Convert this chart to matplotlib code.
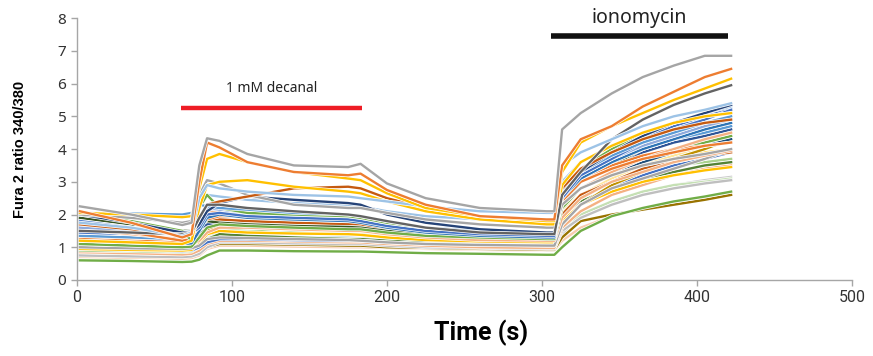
import matplotlib
matplotlib.use("Agg")
import matplotlib.pyplot as plt
import matplotlib.patheffects as pe

# sample times (s)
time_s = [2, 35, 68, 74, 79, 84, 92, 110, 140, 175, 183, 200, 225, 260, 303,
          308, 313, 325, 345, 365, 385, 405, 422]

# Fura 2 ratio traces (one list per cell) and their colours
cell_colors = [
    "#C9C9C9", "#C5E0B4", "#F8CBAD", "#997300", "#70AD47", "#BFBFBF",
    "#F4B183", "#A9D18E", "#BDD7EE", "#548235", "#4472C4", "#FFE699",
    "#FFD966", "#BF9000", "#1F4E79", "#C55A11", "#2F5597", "#375623",
    "#FFC000", "#A5A5A5", "#F4B183", "#70AD47", "#ED7D31", "#5B9BD5",
    "#4472C4", "#9DC3E6",
    "#F4B183", "#ED7D31", "#2E75B6", "#8FAADC", "#4472C4", "#70AD47",
    "#5B9BD5", "#264478", "#A5A5A5", "#C55A11", "#FFC000", "#636363",
    "#9DC3E6", "#FFC000", "#ED7D31", "#A5A5A5",
]
cell_ratios = [
    [0.85, 0.83, 0.80, 0.82, 0.90, 1.05, 1.20, 1.20, 1.15, 1.12, 1.12, 1.08, 1.02, 1.00, 0.97, 0.97, 1.40, 2.00, 2.40, 2.70, 2.90, 3.05, 3.15],
    [0.95, 0.92, 0.90, 0.92, 1.00, 1.20, 1.30, 1.30, 1.28, 1.25, 1.25, 1.20, 1.15, 1.12, 1.10, 1.10, 1.60, 2.00, 2.40, 2.70, 2.90, 3.00, 3.10],
    [0.70, 0.68, 0.65, 0.67, 0.75, 0.95, 1.05, 1.05, 1.02, 1.00, 1.00, 0.98, 0.95, 0.92, 0.90, 0.90, 1.20, 1.60, 1.95, 2.20, 2.40, 2.50, 2.60],
    [0.80, 0.78, 0.75, 0.77, 0.85, 1.00, 1.10, 1.10, 1.08, 1.05, 1.05, 1.00, 0.98, 0.95, 0.92, 0.92, 1.30, 1.80, 2.00, 2.15, 2.30, 2.45, 2.60],
    [0.60, 0.58, 0.55, 0.56, 0.62, 0.75, 0.90, 0.90, 0.88, 0.87, 0.87, 0.85, 0.82, 0.80, 0.77, 0.77, 1.00, 1.50, 1.95, 2.20, 2.40, 2.55, 2.70],
    [0.75, 0.72, 0.70, 0.72, 0.80, 1.00, 1.15, 1.15, 1.12, 1.10, 1.10, 1.05, 1.00, 0.98, 0.95, 0.95, 1.50, 1.90, 2.30, 2.60, 2.80, 2.95, 3.05],
    [0.85, 0.82, 0.78, 0.80, 0.90, 1.10, 1.20, 1.20, 1.18, 1.15, 1.15, 1.10, 1.05, 1.00, 0.98, 0.98, 1.60, 2.10, 2.60, 2.90, 3.20, 3.40, 3.50],
    [0.90, 0.88, 0.85, 0.87, 1.00, 1.30, 1.50, 1.55, 1.50, 1.45, 1.45, 1.35, 1.25, 1.20, 1.15, 1.15, 2.00, 2.50, 3.00, 3.30, 3.50, 3.60, 3.70],
    [1.05, 1.02, 1.00, 1.02, 1.10, 1.30, 1.35, 1.35, 1.30, 1.30, 1.28, 1.22, 1.15, 1.10, 1.08, 1.08, 1.70, 2.30, 2.90, 3.30, 3.60, 3.80, 4.00],
    [1.05, 1.00, 0.95, 0.97, 1.05, 1.25, 1.40, 1.35, 1.30, 1.25, 1.25, 1.20, 1.15, 1.12, 1.10, 1.10, 1.90, 2.40, 2.80, 3.10, 3.30, 3.50, 3.60],
    [0.95, 0.92, 0.88, 0.90, 1.00, 1.15, 1.25, 1.25, 1.22, 1.20, 1.20, 1.15, 1.10, 1.08, 1.05, 1.05, 1.80, 2.30, 2.80, 3.20, 3.50, 3.70, 3.90],
    [1.25, 1.22, 1.20, 1.22, 1.30, 1.55, 1.65, 1.60, 1.55, 1.52, 1.50, 1.40, 1.30, 1.25, 1.22, 1.22, 2.10, 2.60, 3.10, 3.50, 3.80, 4.10, 4.30],
    [1.15, 1.12, 1.10, 1.12, 1.20, 1.50, 1.80, 1.75, 1.70, 1.65, 1.60, 1.45, 1.30, 1.20, 1.15, 1.15, 1.90, 2.50, 3.00, 3.40, 3.70, 3.90, 4.00],
    [1.10, 1.08, 1.05, 1.08, 1.30, 1.55, 1.65, 1.60, 1.55, 1.50, 1.50, 1.40, 1.30, 1.25, 1.20, 1.20, 1.80, 2.30, 2.90, 3.30, 3.70, 4.00, 4.30],
    [1.00, 0.98, 0.95, 1.00, 1.40, 1.80, 1.85, 1.75, 1.65, 1.60, 1.60, 1.50, 1.40, 1.30, 1.25, 1.25, 2.20, 2.80, 3.30, 3.60, 3.90, 4.10, 4.30],
    [1.30, 1.25, 1.20, 1.22, 1.50, 1.80, 1.85, 1.80, 1.75, 1.70, 1.70, 1.55, 1.40, 1.30, 1.25, 1.25, 2.00, 2.60, 3.00, 3.40, 3.60, 3.80, 3.90],
    [1.75, 1.55, 1.35, 1.38, 1.55, 1.70, 1.72, 1.68, 1.62, 1.58, 1.55, 1.45, 1.35, 1.28, 1.25, 1.25, 2.40, 3.00, 3.50, 3.90, 4.20, 4.40, 4.60],
    [1.90, 1.70, 1.50, 1.50, 1.70, 1.80, 1.75, 1.70, 1.65, 1.62, 1.60, 1.50, 1.40, 1.30, 1.25, 1.25, 2.30, 3.00, 3.50, 4.00, 4.30, 4.60, 4.90],
    [0.95, 0.92, 0.90, 0.92, 1.10, 1.40, 1.50, 1.45, 1.42, 1.40, 1.38, 1.30, 1.22, 1.18, 1.15, 1.15, 1.80, 2.30, 2.70, 3.00, 3.20, 3.35, 3.45],
    [1.00, 0.97, 0.95, 0.97, 1.05, 1.25, 1.30, 1.28, 1.25, 1.22, 1.20, 1.15, 1.10, 1.07, 1.05, 1.05, 1.70, 2.30, 2.80, 3.10, 3.40, 3.70, 4.00],
    [1.10, 1.07, 1.05, 1.07, 1.20, 1.45, 1.60, 1.60, 1.55, 1.50, 1.50, 1.40, 1.30, 1.22, 1.20, 1.20, 1.90, 2.50, 3.00, 3.30, 3.60, 3.80, 3.95],
    [1.10, 1.05, 1.00, 1.02, 1.30, 1.60, 1.70, 1.65, 1.60, 1.55, 1.55, 1.45, 1.35, 1.30, 1.25, 1.25, 2.20, 2.80, 3.30, 3.70, 4.00, 4.20, 4.40],
    [1.25, 1.20, 1.15, 1.20, 1.60, 2.00, 2.05, 2.00, 1.95, 1.90, 1.85, 1.70, 1.55, 1.45, 1.40, 1.40, 2.50, 3.10, 3.50, 3.80, 4.00, 4.10, 4.20],
    [1.35, 1.30, 1.25, 1.28, 1.55, 1.90, 2.00, 1.95, 1.90, 1.85, 1.80, 1.65, 1.50, 1.40, 1.35, 1.35, 2.50, 3.10, 3.60, 4.00, 4.30, 4.50, 4.70],
    [1.45, 1.40, 1.35, 1.38, 1.70, 2.10, 2.15, 2.05, 2.00, 1.95, 1.90, 1.75, 1.60, 1.50, 1.45, 1.45, 2.80, 3.40, 3.90, 4.30, 4.70, 5.00, 5.25],
    [1.65, 1.55, 1.45, 1.50, 2.20, 2.60, 2.55, 2.45, 2.35, 2.30, 2.25, 2.10, 1.95, 1.85, 1.80, 1.80, 3.00, 3.60, 4.10, 4.50, 4.80, 5.10, 5.30],
    [1.55, 1.40, 1.25, 1.30, 1.70, 2.05, 2.10, 2.05, 1.95, 1.90, 1.85, 1.70, 1.55, 1.45, 1.40, 1.40, 2.30, 2.80, 3.30, 3.70, 4.00, 4.30, 4.50],
    [1.65, 1.45, 1.20, 1.25, 1.60, 1.85, 1.95, 1.95, 1.90, 1.85, 1.85, 1.70, 1.55, 1.45, 1.40, 1.40, 2.40, 3.00, 3.40, 3.70, 3.90, 4.10, 4.20],
    [1.20, 1.15, 1.10, 1.12, 1.50, 1.90, 2.00, 1.90, 1.85, 1.80, 1.75, 1.60, 1.45, 1.35, 1.30, 1.30, 2.50, 3.10, 3.60, 4.00, 4.30, 4.60, 4.80],
    [1.60, 1.50, 1.35, 1.40, 1.80, 2.20, 2.15, 2.05, 1.95, 1.90, 1.85, 1.70, 1.55, 1.45, 1.40, 1.40, 2.60, 3.20, 3.70, 4.10, 4.40, 4.70, 4.90],
    [1.80, 1.60, 1.40, 1.42, 1.60, 2.00, 2.05, 1.95, 1.90, 1.85, 1.80, 1.65, 1.50, 1.40, 1.35, 1.35, 2.50, 3.20, 3.70, 4.20, 4.60, 4.90, 5.20],
    [2.05, 1.80, 1.50, 1.20, 2.20, 2.60, 2.20, 2.05, 2.00, 1.95, 1.90, 1.75, 1.60, 1.50, 1.45, 1.45, 2.70, 3.40, 4.00, 4.50, 4.80, 5.00, 5.10],
    [2.05, 2.03, 2.00, 2.05, 2.30, 2.25, 2.20, 2.15, 2.05, 2.00, 1.95, 1.80, 1.60, 1.50, 1.45, 1.45, 2.70, 3.30, 3.80, 4.20, 4.50, 4.80, 5.00],
    [2.00, 1.75, 1.45, 1.45, 1.70, 2.10, 2.35, 2.55, 2.45, 2.35, 2.30, 2.00, 1.75, 1.55, 1.45, 1.45, 2.60, 3.30, 3.90, 4.40, 4.80, 5.10, 5.35],
    [2.00, 1.90, 1.75, 1.80, 2.60, 3.05, 2.95, 2.60, 2.30, 2.20, 2.20, 2.05, 1.85, 1.70, 1.60, 1.60, 2.30, 2.80, 3.20, 3.50, 3.70, 3.85, 4.00],
    [1.70, 1.55, 1.35, 1.40, 1.90, 2.30, 2.40, 2.55, 2.80, 2.85, 2.80, 2.50, 2.20, 1.95, 1.80, 1.80, 2.80, 3.40, 3.90, 4.30, 4.60, 4.80, 4.90],
    [1.20, 1.15, 1.10, 1.20, 2.20, 2.90, 3.00, 3.05, 2.85, 2.70, 2.65, 2.40, 2.10, 1.85, 1.70, 1.70, 2.90, 3.60, 4.10, 4.50, 4.80, 5.00, 5.10],
    [1.50, 1.45, 1.40, 1.45, 1.90, 2.30, 2.30, 2.20, 2.10, 2.00, 1.95, 1.80, 1.60, 1.45, 1.40, 1.40, 2.60, 3.30, 4.30, 4.90, 5.35, 5.70, 5.95],
    [1.75, 1.60, 1.35, 1.45, 2.50, 2.90, 2.80, 2.70, 2.60, 2.55, 2.50, 2.40, 2.25, 2.10, 2.05, 2.05, 3.50, 3.90, 4.30, 4.70, 5.00, 5.20, 5.40],
    [2.05, 2.00, 1.92, 1.95, 2.80, 3.70, 3.85, 3.60, 3.30, 3.10, 3.05, 2.65, 2.20, 1.95, 1.80, 1.80, 3.30, 4.20, 4.70, 5.10, 5.50, 5.85, 6.15],
    [2.10, 1.75, 1.30, 1.40, 3.00, 4.20, 4.05, 3.60, 3.30, 3.20, 3.25, 2.75, 2.30, 1.95, 1.85, 1.85, 3.50, 4.30, 4.70, 5.30, 5.75, 6.20, 6.45],
    [2.25, 2.00, 1.68, 1.75, 3.50, 4.33, 4.25, 3.85, 3.50, 3.45, 3.55, 2.95, 2.50, 2.20, 2.10, 2.10, 4.60, 5.10, 5.70, 6.20, 6.55, 6.85, 6.85],
]

decanal_start, decanal_end, decanal_level = 67, 184, 5.25
iono_start, iono_end, iono_level = 306, 420, 7.45

fig = plt.figure(figsize=(8.73, 3.56), dpi=100)
ax = fig.add_axes([0.088, 0.2135, 0.888, 0.7355])

for col, vals in zip(cell_colors, cell_ratios):
    ax.plot(time_s, vals, color=col, lw=1.7, solid_joinstyle="round",
            path_effects=[pe.Stroke(linewidth=2.7, foreground="white"), pe.Normal()])

ax.plot([decanal_start, decanal_end], [decanal_level, decanal_level],
        color="#EE1C25", lw=3.2, solid_capstyle="butt")
ax.text((decanal_start + decanal_end) / 2, 5.85, "1 mM decanal",
        ha="center", va="center", fontsize=10, color="#222222", family="Noto Sans")
ax.plot([iono_start, iono_end], [iono_level, iono_level],
        color="#111111", lw=4, solid_capstyle="butt", clip_on=False)
ax.text((iono_start + iono_end) / 2, 8.0, "ionomycin",
        ha="center", va="center", fontsize=14, color="#222222", family="Noto Sans",
        clip_on=False)

ax.set_xlim(0, 500)
ax.set_ylim(0, 8)
ax.set_xticks([0, 100, 200, 300, 400, 500])
ax.set_yticks(range(0, 9))
for s in ("top", "right"):
    ax.spines[s].set_visible(False)
for s in ("left", "bottom"):
    ax.spines[s].set_color("#A6A6A6")
    ax.spines[s].set_linewidth(1.0)
ax.tick_params(axis="both", colors="#A6A6A6", length=4, width=1.0,
               labelcolor="#333333")
for lab in ax.get_xticklabels():
    lab.set_family("Roboto")
    lab.set_fontsize(11.5)
for lab in ax.get_yticklabels():
    lab.set_family("Noto Sans")
    lab.set_fontsize(11)

ax.set_xlabel("Time (s)", family="Roboto", fontweight="bold", fontsize=18, labelpad=6)
ax.xaxis.set_label_coords(0.522, -0.15)
ax.set_ylabel("Fura 2 ratio 340/380", family="Liberation Sans", fontweight="bold",
              fontsize=10.5, labelpad=22)

fig.savefig("out.png", dpi=100)
